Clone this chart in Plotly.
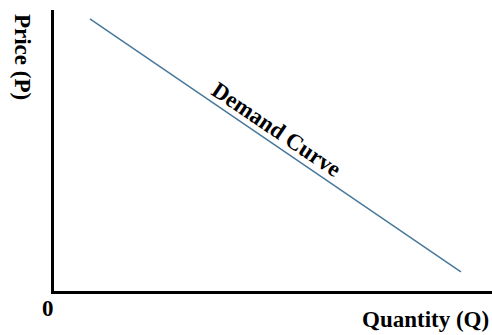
import plotly.graph_objects as go

quantity = [0.82, 9.29]
price = [9.68, 0.68]
curve_label = "Demand Curve"
x_title = "Quantity (Q)"
y_title = "Price (P)"
origin_label = "0"

FONT = "Liberation Serif"
FS = 23

fig = go.Figure()
fig.add_trace(go.Scatter(x=quantity, y=price, mode="lines",
                         line=dict(color="#48789a", width=1.5),
                         hoverinfo="skip", showlegend=False))

def ann(text, x, y, ref="paper", angle=0):
    return dict(text=f"<b>{text}</b>", x=x, y=y, xref=ref if ref == "paper" else "x",
                yref=ref if ref == "paper" else "y", showarrow=False, textangle=angle,
                xanchor="center", yanchor="middle",
                font=dict(family=FONT, size=FS, color="black"))

fig.update_layout(
    width=492, height=335,
    margin=dict(l=54, r=0, t=10, b=44),
    paper_bgcolor="white", plot_bgcolor="white",
    xaxis=dict(range=[0, 10], showgrid=False, zeroline=False, showticklabels=False,
               ticks="", showline=True, linecolor="black", linewidth=3, fixedrange=True),
    yaxis=dict(range=[0, 10], showgrid=False, zeroline=False, showticklabels=False,
               ticks="", showline=True, linecolor="black", linewidth=3, fixedrange=True),
    annotations=[
        ann(curve_label, 5.07, 5.73, ref="data", angle=34),
        ann(y_title, -0.073, 0.833, angle=90),
        ann(origin_label, -0.014, -0.064),
        ann(x_title, 0.849, -0.103),
    ],
)

fig.write_html("out.html", config={"displayModeBar": False},
               post_script="document.body.style.margin='0';document.body.style.overflow='hidden';")
